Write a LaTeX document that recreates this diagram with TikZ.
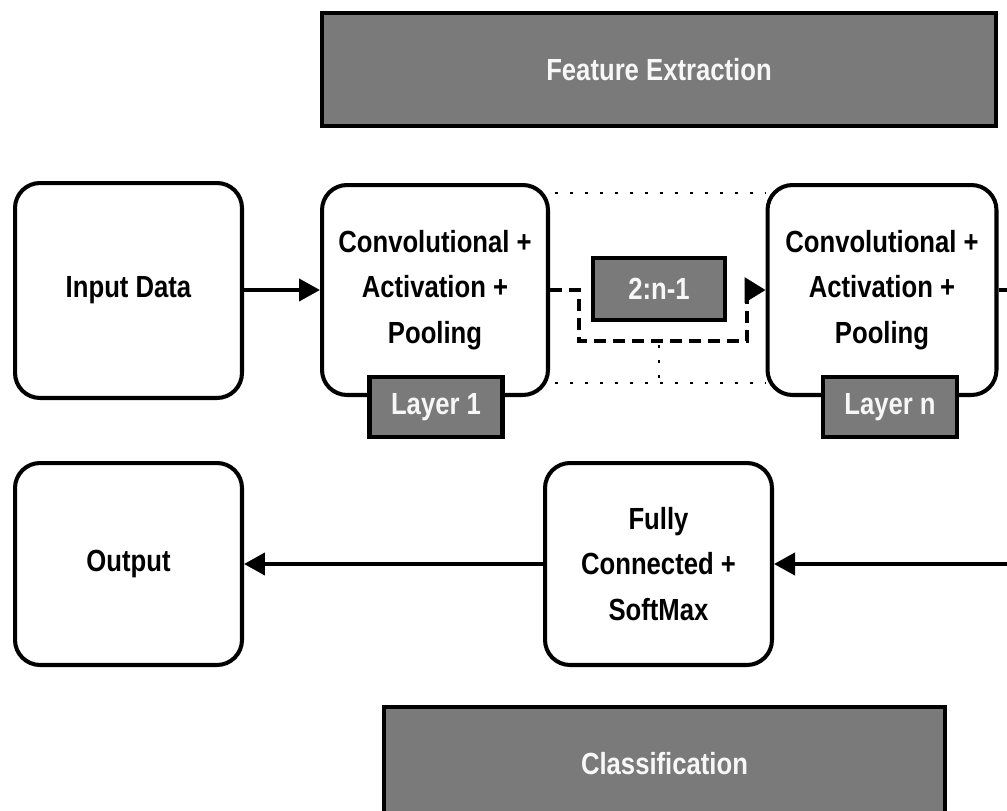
\documentclass[tikz,border=0pt]{standalone}
\usepackage{fontspec}
\setmainfont[FakeStretch=0.84]{Liberation Sans}
\usetikzlibrary{arrows.meta}
\definecolor{boxgray}{HTML}{7A7A7A}
\tikzset{
  stage/.style={draw, line width=2.3pt, rounded corners=0.5cm, fill=white,
    align=center, inner sep=0pt, font=\fontsize{17.4}{26}\selectfont\bfseries},
  banner/.style={draw, line width=2.3pt, fill=boxgray, text=white!94!gray,
    inner sep=0pt, font=\fontsize{17.4}{26}\selectfont\bfseries},
  flow/.style={line width=2.3pt, -{Triangle[length=0.42cm,width=0.44cm]}},
  loopback/.style={line width=1.8pt, dash pattern=on 0.24cm off 0.14cm,
    -{Triangle[length=0.42cm,width=0.5cm]}},
  group/.style={line width=1.5pt, dash pattern=on 0.06cm off 0.24cm}
}
\begin{document}
\begin{tikzpicture}[x=0.02cm,y=-0.02cm]
\useasboundingbox (0,0) rectangle (1007,811);
\clip (0,0) rectangle (1007,811);
% banners
\node[banner, minimum width=13.48cm, minimum height=2.26cm] (feat) at (659,69.5) {Feature Extraction};
\node[banner, minimum width=11.22cm, minimum height=2.26cm] (classif) at (664.5,763.5) {Classification};
% dotted group around the repeated layers
\draw[group] (555,193) -- (765,193) (555,383) -- (765,383) (659,345) -- (659,383);
% top row
\node[stage, minimum width=4.54cm, minimum height=4.3cm] (input) at (128.5,290.5) {Input Data};
\node[stage, minimum width=4.52cm, minimum height=4.2cm] (conv1) at (435,290) {Convolutional +\\Activation +\\Pooling};
\node[stage, minimum width=4.58cm, minimum height=4.2cm] (convn) at (882,290) {Convolutional +\\Activation +\\Pooling};
\node[banner, minimum width=2.66cm, minimum height=1.2cm] (layer1) at (436,407) {Layer 1};
\node[banner, minimum width=2.68cm, minimum height=1.2cm] (layern) at (890,407) {Layer n};
\node[banner, line width=1.8pt, minimum width=2.64cm, minimum height=1.24cm] (mid) at (659,289) {2:n-1};
% bottom row
\node[stage, minimum width=4.54cm, minimum height=4.04cm] (output) at (128.5,564) {Output};
\node[stage, minimum width=4.54cm, minimum height=4.04cm] (fc) at (658.5,564) {Fully\\Connected +\\SoftMax};
% connectors
\draw[flow] (input.east |- conv1.west) -- (conv1.west);
\draw[loopback] (conv1.east) -| (579,341) -- (747,341) |- (convn.west);
\draw[flow] (convn.east) -- (1015,290) |- (fc.east);
\draw[flow] (fc.west) -- (output.east);
\end{tikzpicture}
\end{document}
